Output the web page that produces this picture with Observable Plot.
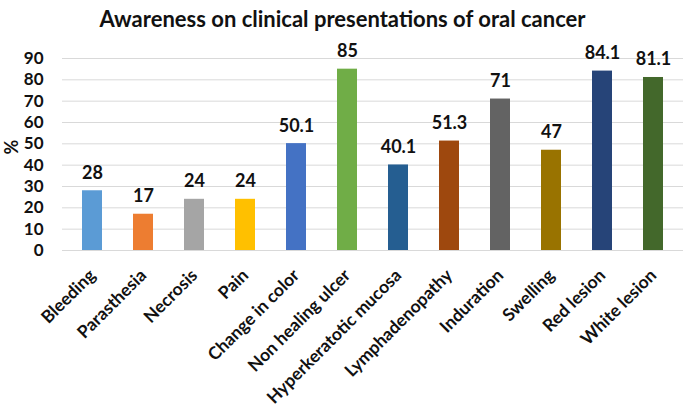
<!DOCTYPE html>
<html>
<head>
<meta charset="utf-8">
<script src="https://cdn.jsdelivr.net/npm/d3@7"></script>
<script src="https://cdn.jsdelivr.net/npm/@observablehq/plot@0.6"></script>
<style>
  body { margin: 0; background: #fff; font-family: Lato, "Open Sans", sans-serif; }
  #title { height: 35px; line-height: 37px; text-align: center; font-size: 22px; font-weight: bold; color: #111; }
  #chart-display svg { display: block; }
</style>
</head>
<body>
<div id="title">Awareness on clinical presentations of oral cancer</div>
<div id="chart-display"></div>
<script>
const symptoms = ["Bleeding", "Parasthesia", "Necrosis", "Pain", "Change in color", "Non healing ulcer",
  "Hyperkeratotic mucosa", "Lymphadenopathy", "Induration", "Swelling", "Red lesion", "White lesion"];
const percents = [28, 17, 24, 24, 50.1, 85, 40.1, 51.3, 71, 47, 84.1, 81.1];
const barColors = ["#5B9BD5", "#ED7D31", "#A5A5A5", "#FFC000", "#4472C4", "#70AD47",
  "#255E91", "#9E480E", "#636363", "#997300", "#264478", "#43682B"];
const yTicks = [0, 10, 20, 30, 40, 50, 60, 70, 80, 90];

const rows = symptoms.map((s, i) => ({symptom: s, pct: percents[i]}));

const plot = Plot.plot({
  width: 685,
  height: 375,
  marginTop: 23,
  marginBottom: 160,
  marginLeft: 62,
  marginRight: 2,
  style: {fontFamily: "Lato, 'Open Sans', sans-serif", fontWeight: "bold", color: "#111", background: "#fff"},
  x: {domain: symptoms, paddingInner: 0.6, paddingOuter: 0.3, label: null},
  y: {domain: [0, 90], label: null},
  color: {domain: symptoms, range: barColors},
  marks: [
    Plot.ruleY(yTicks, {stroke: "#d9d9d9", strokeWidth: 1}),
    Plot.barY(rows, {x: "symptom", y: "pct", fill: "symptom"}),
    Plot.text(rows, {x: "symptom", y: "pct", text: d => String(d.pct), dy: -12, lineAnchor: "bottom", fontSize: 18, fill: "#111"}),
    Plot.axisY({ticks: yTicks, tickSize: 0, tickPadding: 19, fontSize: 17, label: null}),
    Plot.text(["%"], {frameAnchor: "left", dx: -50, rotate: -90, fontSize: 18, fill: "#111"}),
    Plot.axisX({tickSize: 0, tickRotate: -45, tickPadding: 22, fontSize: 17.5, label: null})
  ]
});

const displayDiv = document.querySelector("#chart-display");
displayDiv.innerHTML = "";
displayDiv.append(plot);
</script>
</body>
</html>
